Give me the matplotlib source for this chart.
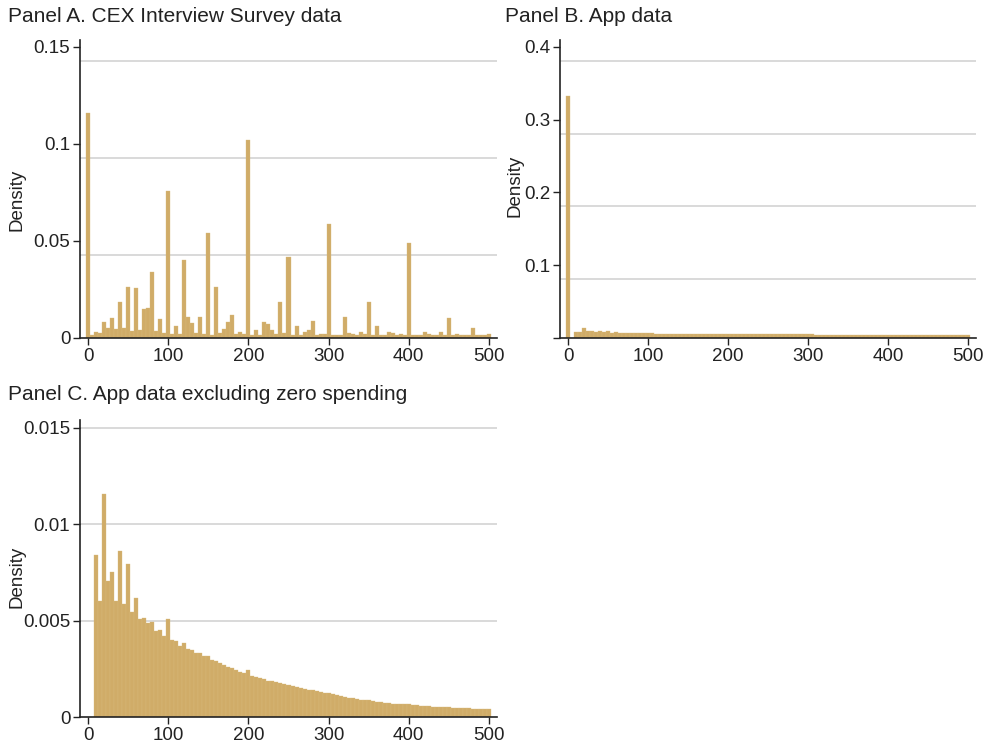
import numpy as np
import matplotlib.pyplot as plt

plt.rcParams['font.family'] = ['Liberation Sans', 'DejaVu Sans']

# spending bins (width 5), 0 .. 500
bin_centers = np.arange(0, 501, 5)

# Panel A: CEX interview survey, density per bin
cex_density = [
    0.116, 0.0015, 0.003, 0.0025, 0.0084, 0.0053, 0.0105, 0.0045, 0.0184, 0.005,
    0.0263, 0.0038, 0.0256, 0.004, 0.0151, 0.0156, 0.0342, 0.0036, 0.0096, 0.0025,
    0.0759, 0.002, 0.0062, 0.002, 0.040, 0.0107, 0.0079, 0.0028, 0.011, 0.002,
    0.054, 0.0016, 0.0263, 0.0025, 0.0048, 0.0084, 0.0118, 0.002, 0.003, 0.002,
    0.102, 0.0015, 0.004, 0.0018, 0.0084, 0.0072, 0.0042, 0.002, 0.0184, 0.0025,
    0.042, 0.0015, 0.0063, 0.0016, 0.003, 0.004, 0.0088, 0.0015, 0.002, 0.002,
    0.0588, 0.0015, 0.0016, 0.0016, 0.011, 0.0028, 0.002, 0.0015, 0.003, 0.002,
    0.0184, 0.0015, 0.006, 0.0016, 0.0016, 0.003, 0.0028, 0.0015, 0.002, 0.0015,
    0.0488, 0.0015, 0.0015, 0.0016, 0.003, 0.002, 0.0018, 0.0015, 0.003, 0.0016,
    0.0103, 0.0015, 0.0022, 0.0014, 0.0014, 0.0014, 0.005, 0.0014, 0.0014, 0.0014,
    0.002,
]

# Panel B: app data, density per bin (bin 5 empty)
app_density = [
    0.333, 0.0, 0.0082, 0.0080, 0.0137, 0.0092, 0.0101, 0.0080, 0.0100, 0.0080,
    0.0092, 0.0073, 0.0078, 0.0070, 0.0068, 0.0068, 0.0066, 0.0066, 0.0064, 0.0064,
    0.0070, 0.0062, 0.0061, 0.0061, 0.0060, 0.0060, 0.0059, 0.0059, 0.0058, 0.0058,
    0.0058, 0.0057, 0.0057, 0.0056, 0.0056, 0.0056, 0.0055, 0.0055, 0.0055, 0.0054,
    0.0055, 0.0054, 0.0054, 0.0054, 0.0053, 0.0053, 0.0053, 0.0053, 0.0052, 0.0052,
    0.0052, 0.0052, 0.0051, 0.0051, 0.0051, 0.0051, 0.0050, 0.0050, 0.0050, 0.0049,
    0.0050, 0.0049, 0.0048, 0.0048, 0.0048, 0.0047, 0.0047, 0.0047, 0.0046, 0.0046,
    0.0046, 0.0045, 0.0045, 0.0044, 0.0044, 0.0044, 0.0043, 0.0043, 0.0043, 0.0042,
    0.0043, 0.0042, 0.0041, 0.0041, 0.0041, 0.0040, 0.0040, 0.0040, 0.0040, 0.0039,
    0.0039, 0.0039, 0.0039, 0.0038, 0.0038, 0.0038, 0.0038, 0.0037, 0.0037, 0.0037,
    0.0037,
]

# Panel C: app data excluding zero spending, bins 10 .. 500
nonzero_centers = np.arange(10, 501, 5)
nonzero_density = [
    0.00841, 0.00602, 0.01157, 0.00708, 0.00751, 0.00602, 0.00862, 0.00587, 0.00792, 0.00543,
    0.00619, 0.00507, 0.00514, 0.00488, 0.00493, 0.00448, 0.00452, 0.00420, 0.00507, 0.00400,
    0.00394, 0.00370, 0.00382, 0.00355, 0.00346, 0.00334, 0.00332, 0.00318, 0.00318, 0.00296,
    0.00292, 0.00279, 0.00270, 0.00258, 0.00253, 0.00244, 0.00235, 0.00227, 0.00244, 0.00213,
    0.00209, 0.00203, 0.00196, 0.00189, 0.00185, 0.00180, 0.00176, 0.00170, 0.00168, 0.00161,
    0.00157, 0.00151, 0.00147, 0.00142, 0.00138, 0.00133, 0.00129, 0.00125, 0.00124, 0.00117,
    0.00113, 0.00109, 0.00105, 0.00101, 0.00097, 0.00093, 0.00090, 0.00088, 0.00086, 0.00082,
    0.00079, 0.00077, 0.00074, 0.00072, 0.00070, 0.00068, 0.00067, 0.00065, 0.00065, 0.00062,
    0.00060, 0.00058, 0.00057, 0.00055, 0.00054, 0.00053, 0.00052, 0.00051, 0.00051, 0.00049,
    0.00048, 0.00047, 0.00046, 0.00045, 0.00044, 0.00043, 0.00042, 0.00041, 0.00040,
]

xticks = [0, 100, 200, 300, 400, 500]

BAR = '#D0AC68'
EDGE = '#D9BA7D'
GRID = '#CFCFCF'
AXC = '#222222'

fig = plt.figure(figsize=(9.9, 7.46), dpi=100)


def make_panel(rect, x, y, ymax, yticks, ylabels, grid_vals, title, title_xy, ylab_xy):
    ax = fig.add_axes(rect)
    for g in grid_vals:
        ax.axhline(g, color=GRID, lw=1.1, zorder=0)
    ax.bar(x, y, width=5, color=BAR, edgecolor=EDGE, linewidth=0.25, zorder=2)
    ax.set_xlim(-10, 510)
    ax.set_ylim(0, ymax)
    ax.set_xticks(xticks)
    ax.set_yticks(yticks)
    ax.set_yticklabels(ylabels)
    for s in ['top', 'right']:
        ax.spines[s].set_visible(False)
    for s in ['left', 'bottom']:
        ax.spines[s].set_color(AXC)
        ax.spines[s].set_linewidth(1.2)
    ax.tick_params(colors=AXC, labelsize=13.5, length=5, width=1, pad=2)
    fig.text(title_xy[0] / 990, 1 - title_xy[1] / 746, title, fontsize=15,
             color=AXC, ha='left', va='center')
    fig.text(ylab_xy[0] / 990, 1 - ylab_xy[1] / 746, 'Density', fontsize=13.5,
             color=AXC, rotation=90, ha='center', va='center')
    return ax


make_panel([80 / 990, 408 / 746, 417 / 990, 298 / 746], bin_centers, cex_density,
           0.1536, [0, 0.05, 0.1, 0.15], ['0', '0.05', '0.1', '0.15'],
           [0.0428, 0.0928, 0.1428],
           'Panel A. CEX Interview Survey data', (8, 17), (17, 200))

make_panel([560 / 990, 408 / 746, 416 / 990, 298 / 746], bin_centers, app_density,
           0.4096, [0, 0.1, 0.2, 0.3, 0.4], ['', '0.1', '0.2', '0.3', '0.4'],
           [0.081, 0.181, 0.281, 0.381],
           'Panel B. App data', (505, 17), (515, 186))

make_panel([80 / 990, 29 / 746, 417 / 990, 297 / 746], nonzero_centers, nonzero_density,
           0.01541, [0, 0.005, 0.01, 0.015], ['0', '0.005', '0.01', '0.015'],
           [0.005, 0.01, 0.015],
           'Panel C. App data excluding zero spending', (8, 395), (17, 577))

fig.savefig('out.png', dpi=100)
